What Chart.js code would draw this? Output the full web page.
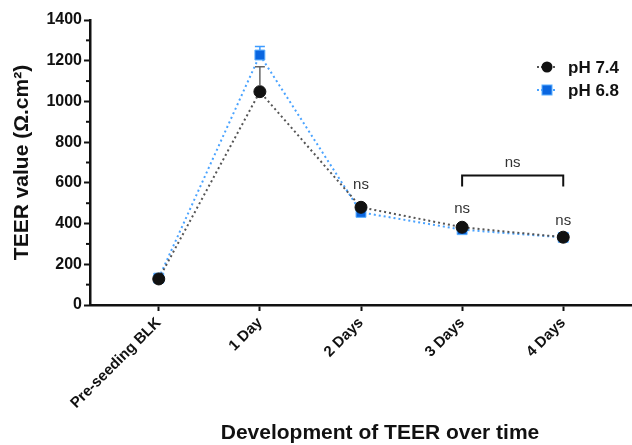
<!DOCTYPE html>
<html>
<head>
<meta charset="utf-8">
<style>
  html, body { margin: 0; padding: 0; background: #fff; }
  #wrap { width: 632px; height: 445px; }
</style>
<script src="https://cdn.jsdelivr.net/npm/chart.js@4.4.0/dist/chart.umd.min.js"></script>
</head>
<body>
<div id="wrap"><canvas id="myChart"></canvas></div>
<script>
var categories = ["Pre-seeding BLK", "1 Day", "2 Days", "3 Days", "4 Days"];
var ph74 = [128, 1048, 480, 382, 333];
var ph68 = [132, 1228, 455, 370, 332];
var ph74Err = [0, 122, 0, 0, 0];
var ph68Err = [0, 42, 0, 0, 0];
var yTicks = [0, 200, 400, 600, 800, 1000, 1200, 1400];
// "ns" marks and the height (in data units) where each one sits
var nsLabels = [null, null, "ns", "ns", "ns"];
var nsLevels = [null, null, 572, 453, 394];
var bracketLevel = 636;
var bracketTextLevel = 680;

var FONT = "'Liberation Sans', Arial, sans-serif";
var BLACK = "#111111";
var BLUE = "#0a66e0";

function toPoints(arr) {
  return arr.map(function (v, i) { return { x: i, y: v }; });
}

var extras = {
  id: "extras",
  afterDatasetsDraw: function (chart) {
    var ctx = chart.ctx;
    var xs = chart.scales.x, ys = chart.scales.y;
    ctx.save();

    // error bars (upper only)
    [[ph74, ph74Err, "#666666", 6], [ph68, ph68Err, "#3d9bff", 5]].forEach(function (s) {
      s[0].forEach(function (v, i) {
        if (!s[1][i]) return;
        var px = xs.getPixelForValue(i);
        var y0 = ys.getPixelForValue(v);
        var y1 = ys.getPixelForValue(v + s[1][i]);
        ctx.strokeStyle = s[2];
        ctx.lineWidth = 1.5;
        ctx.beginPath();
        ctx.moveTo(px, y0 - s[3]);
        ctx.lineTo(px, y1);
        ctx.moveTo(px - 5, y1);
        ctx.lineTo(px + 5, y1);
        ctx.stroke();
      });
    });

    // minor y ticks
    ctx.strokeStyle = BLACK;
    ctx.lineWidth = 2;
    for (var v = 100; v < 1400; v += 200) {
      var py = ys.getPixelForValue(v);
      ctx.beginPath();
      ctx.moveTo(chart.chartArea.left - 4, py);
      ctx.lineTo(chart.chartArea.left, py);
      ctx.stroke();
    }

    // ns labels
    ctx.fillStyle = "#333333";
    ctx.font = "15px " + FONT;
    ctx.textAlign = "center";
    ctx.textBaseline = "alphabetic";
    nsLabels.forEach(function (t, i) {
      if (!t) return;
      ctx.fillText(t, xs.getPixelForValue(i), ys.getPixelForValue(nsLevels[i]));
    });

    // bracket 3 Days - 4 Days
    var bx1 = xs.getPixelForValue(3), bx2 = xs.getPixelForValue(4);
    var by = ys.getPixelForValue(bracketLevel);
    ctx.strokeStyle = BLACK;
    ctx.lineWidth = 2;
    ctx.beginPath();
    ctx.moveTo(bx1, by + 11);
    ctx.lineTo(bx1, by);
    ctx.lineTo(bx2, by);
    ctx.lineTo(bx2, by + 11);
    ctx.stroke();
    ctx.fillText("ns", (bx1 + bx2) / 2, ys.getPixelForValue(bracketTextLevel));

    // x axis title
    ctx.fillStyle = BLACK;
    ctx.font = "bold 21px " + FONT;
    ctx.textBaseline = "middle";
    ctx.fillText("Development of TEER over time", 380, 433);

    // legend
    var lx = 547, ly = [67, 90];
    chart.data.datasets.forEach(function (ds, k) {
      var y = ly[k];
      ctx.strokeStyle = ds.borderColor;
      ctx.lineWidth = 2;
      ctx.setLineDash([2, 2]);
      ctx.beginPath();
      ctx.moveTo(lx - 10, y);
      ctx.lineTo(lx + 8, y);
      ctx.stroke();
      ctx.setLineDash([]);
      ctx.fillStyle = ds.pointBackgroundColor;
      ctx.strokeStyle = ds.pointBorderColor;
      ctx.lineWidth = 1;
      if (ds.pointStyle === "rect") {
        ctx.fillRect(lx - 5, y - 5, 10, 10);
        ctx.strokeRect(lx - 5, y - 5, 10, 10);
      } else {
        ctx.beginPath();
        ctx.arc(lx, y, 5.5, 0, Math.PI * 2);
        ctx.fill();
      }
      ctx.fillStyle = BLACK;
      ctx.font = "bold 17px " + FONT;
      ctx.textAlign = "left";
      ctx.textBaseline = "middle";
      ctx.fillText(ds.label, lx + 21, y + 1);
    });

    ctx.restore();
  }
};

var ctx = document.getElementById("myChart");
var myChart = new Chart(ctx, {
  type: "line",
  data: {
    datasets: [
      {
        label: "pH 7.4",
        data: toPoints(ph74),
        borderColor: "#555555",
        borderWidth: 2,
        borderDash: [2, 3],
        pointStyle: "circle",
        pointRadius: 6,
        pointBackgroundColor: BLACK,
        pointBorderColor: BLACK,
        pointBorderWidth: 1,
      },
      {
        label: "pH 6.8",
        data: toPoints(ph68),
        borderColor: "#4aa3ff",
        borderWidth: 2,
        borderDash: [2, 3],
        pointStyle: "rect",
        pointRadius: 7,
        pointBackgroundColor: BLUE,
        pointBorderColor: "#5aaeff",
        pointBorderWidth: 1,
      },
    ],
  },
  options: {
    responsive: true,
    maintainAspectRatio: false,
    animation: false,
    layout: { autoPadding: false, padding: { top: 20, right: 0, left: 0, bottom: 0 } },
    plugins: {
      legend: { display: false },
      tooltip: { enabled: false },
    },
    scales: {
      x: {
        type: "linear",
        min: -0.68,
        max: 4.68,
        afterBuildTicks: function (s) {
          s.ticks = categories.map(function (c, i) { return { value: i }; });
        },
        afterFit: function (s) {
          s.height = 140;
          s.paddingRight = 0;
          s.paddingLeft = 0;
        },
        border: { display: true, color: BLACK, width: 2.5 },
        grid: { display: true, drawOnChartArea: false, drawTicks: true, tickLength: 6, tickColor: BLACK, tickWidth: 2 },
        ticks: {
          minRotation: 45,
          maxRotation: 45,
          padding: 3,
          color: BLACK,
          font: { family: FONT, size: 15, weight: "bold" },
          callback: function (v) { return categories[v]; },
        },
      },
      y: {
        min: 0,
        max: 1400,
        afterBuildTicks: function (s) {
          s.ticks = yTicks.map(function (v) { return { value: v }; });
        },
        afterFit: function (s) { s.width = 90; },
        border: { display: true, color: BLACK, width: 2.5 },
        grid: { display: true, drawOnChartArea: false, drawTicks: true, tickLength: 6, tickColor: BLACK, tickWidth: 2 },
        ticks: {
          padding: 2,
          color: BLACK,
          font: { family: FONT, size: 16, weight: "bold" },
          callback: function (v) { return String(v); },
        },
        title: {
          display: true,
          text: "TEER value (Ω.cm²)",
          color: BLACK,
          font: { family: FONT, size: 21, weight: "bold" },
          padding: { top: 10, bottom: 4 },
        },
      },
    },
  },
  plugins: [extras],
});
</script>
</body>
</html>
